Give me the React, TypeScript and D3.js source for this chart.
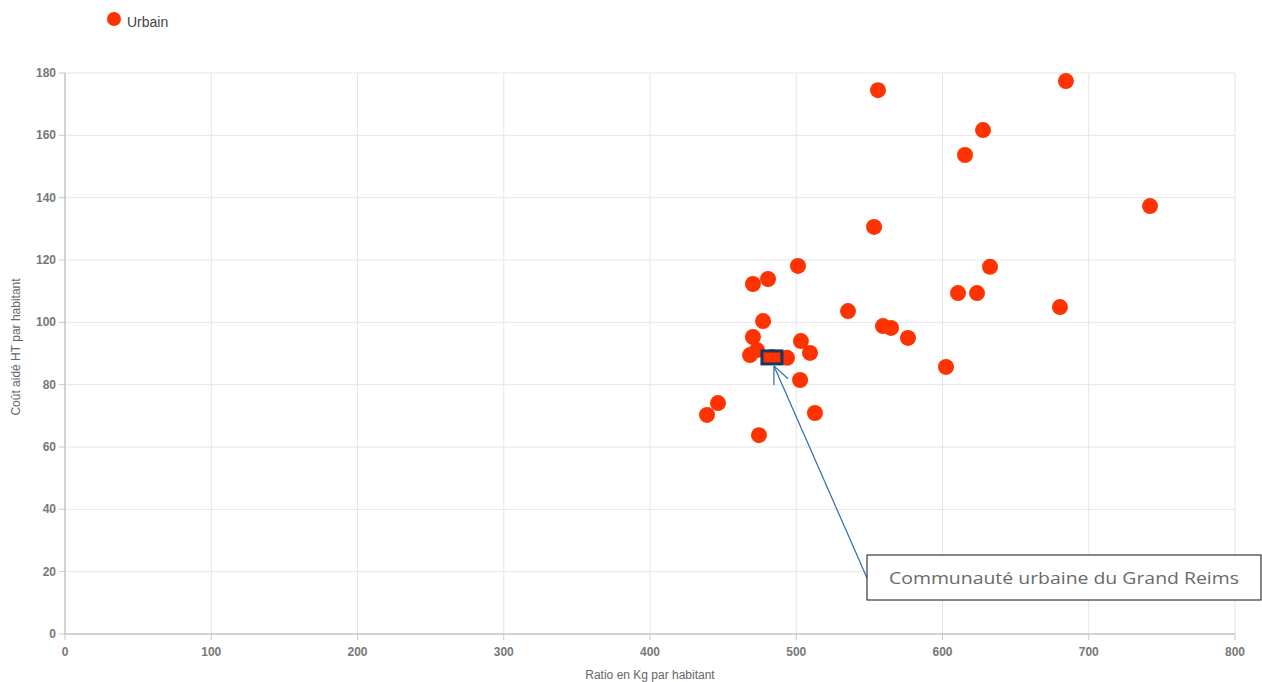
import React from "react";
import * as d3 from "d3";

const xValues = [684.4, 555.9, 627.7, 615.4, 741.9, 553.2, 501.2, 632.5, 480.7, 470.4, 610.6, 623.6, 680.3, 535.4, 477.3, 559.3, 564.8, 576.4, 470.4, 503.2, 509.4, 468.4, 473.2, 483.4, 493.7, 502.6, 446.5, 439.0, 474.5, 512.8, 602.4];
const yValues = [177.4, 174.5, 161.7, 153.7, 137.3, 130.6, 118.1, 117.8, 113.9, 112.3, 109.4, 109.4, 104.9, 103.6, 100.4, 98.8, 98.2, 95.0, 95.3, 94.0, 90.2, 89.5, 91.1, 88.9, 88.6, 81.5, 74.1, 70.3, 63.8, 70.9, 85.7];
const xTicks = [0, 100, 200, 300, 400, 500, 600, 700, 800];
const yTicks = [0, 20, 40, 60, 80, 100, 120, 140, 160, 180];
const seriesName = "Urbain";
const highlightX = 483.4;
const highlightY = 88.9;
const highlightLabel = "Communauté urbaine du Grand Reims";

export default function App() {
  const W = 1262, H = 682;
  const x = d3.scaleLinear().domain([0, 800]).range([65, 1235]);
  const y = d3.scaleLinear().domain([0, 180]).range([634, 73]);
  const red = "#ff3300";
  const tickColor = "#777";
  const hx = x(highlightX), hy = y(highlightY);
  const tipX = hx + 2, tipY = hy + 9;
  const boxX = 867, boxY = 555, boxW = 394, boxH = 45;
  const startX = boxX, startY = boxY + 23;
  const ang = Math.atan2(startY - tipY, startX - tipX);
  const ah = 19;
  const a1 = ang - 0.42, a2 = ang + 0.42;
  return (
    <svg width={W} height={H} style={{ position: "absolute", left: 0, top: 0 }}>
      <rect x={0} y={0} width={W} height={H} fill="#fff" />
      {xTicks.map((t) => (
        <line key={"gx" + t} x1={x(t)} x2={x(t)} y1={y(180)} y2={y(0)} stroke="#e6e6e6" strokeWidth={1} />
      ))}
      {yTicks.map((t) => (
        <line key={"gy" + t} x1={x(0)} x2={x(800)} y1={y(t)} y2={y(t)} stroke="#e6e6e6" strokeWidth={1} />
      ))}
      <line x1={x(0)} x2={x(0)} y1={y(180)} y2={y(0)} stroke="#c8c8c8" strokeWidth={1.5} />
      <line x1={x(0)} x2={x(800)} y1={y(0)} y2={y(0)} stroke="#c8c8c8" strokeWidth={1.5} />
      {yTicks.map((t) => (
        <g key={"ty" + t}>
          <line x1={x(0) - 6} x2={x(0)} y1={y(t)} y2={y(t)} stroke="#c8c8c8" strokeWidth={1} />
          <text x={x(0) - 9} y={y(t) + 4} textAnchor="end" fontFamily="Liberation Sans, Arial" fontSize={12} fontWeight="bold" fill={tickColor}>{t}</text>
        </g>
      ))}
      {xTicks.map((t) => (
        <g key={"tx" + t}>
          <line x1={x(t)} x2={x(t)} y1={y(0)} y2={y(0) + 6} stroke="#c8c8c8" strokeWidth={1} />
          <text x={x(t)} y={y(0) + 22} textAnchor="middle" fontFamily="Liberation Sans, Arial" fontSize={12} fontWeight="bold" fill={tickColor}>{t}</text>
        </g>
      ))}
      <text x={650} y={679} textAnchor="middle" fontFamily="Liberation Sans, Arial" fontSize={12} fill="#666">Ratio en Kg par habitant</text>
      <text transform={`translate(20,347) rotate(-90)`} textAnchor="middle" fontFamily="Liberation Sans, Arial" fontSize={12} fill="#666">Coût aidé HT par habitant</text>
      <circle cx={114} cy={19} r={7} fill={red} />
      <text x={127} y={27} fontFamily="Liberation Sans, Arial" fontSize={14} fill="#444">{seriesName}</text>
      {xValues.map((v, i) => (
        <circle key={i} cx={x(v)} cy={y(yValues[i])} r={8} fill={red} />
      ))}
      <rect x={hx - 10} y={hy - 6} width={20} height={13} fill={red} stroke="#17375e" strokeWidth={3} />
      <line x1={startX} y1={startY} x2={tipX} y2={tipY} stroke="#2e6aa8" strokeWidth={1.2} />
      <line x1={tipX} y1={tipY} x2={tipX + ah * Math.cos(a1)} y2={tipY + ah * Math.sin(a1)} stroke="#2e6aa8" strokeWidth={1.2} />
      <line x1={tipX} y1={tipY} x2={tipX + ah * Math.cos(a2)} y2={tipY + ah * Math.sin(a2)} stroke="#2e6aa8" strokeWidth={1.2} />
      <rect x={boxX} y={boxY} width={boxW} height={boxH} fill="#fff" stroke="#111" strokeWidth={1} />
      <text x={889} y={584} fontFamily="Open Sans, DejaVu Sans" fontSize={17} fill="#6a6a6a" textLength={350} lengthAdjust="spacingAndGlyphs">{highlightLabel}</text>
    </svg>
  );
}
